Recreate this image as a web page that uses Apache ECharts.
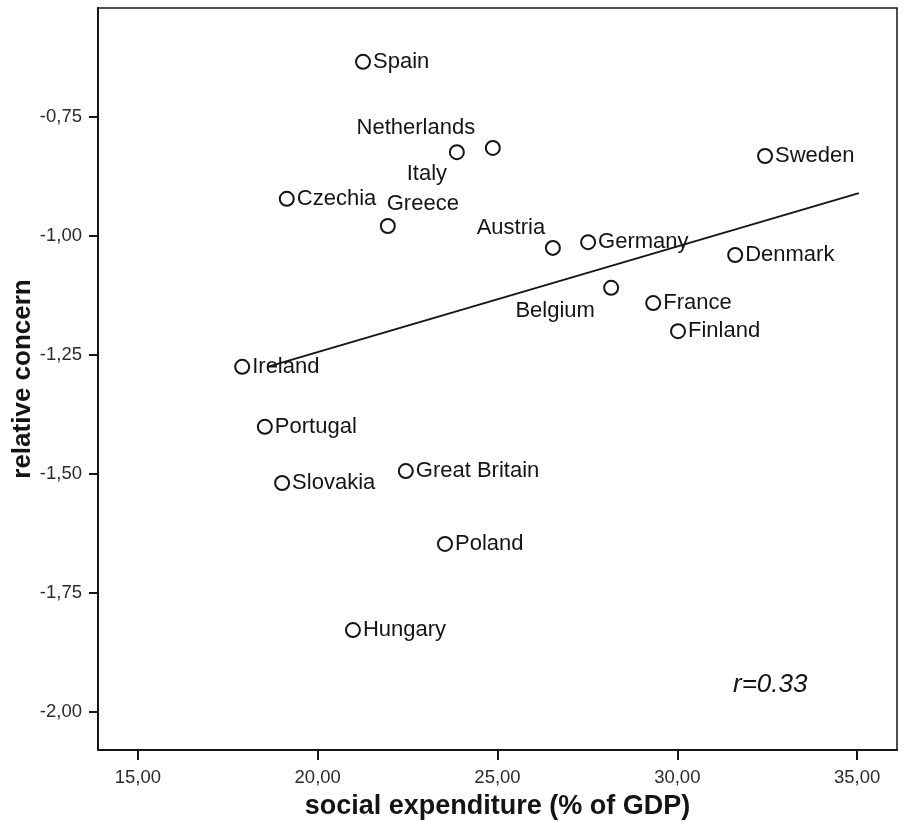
<!DOCTYPE html>
<html>
<head>
<meta charset="utf-8">
<script src="https://cdn.jsdelivr.net/npm/echarts@6/dist/echarts.min.js"></script>
<style>
html,body{margin:0;padding:0;background:#fff;}
#chart{width:903px;height:821px;}
</style>
</head>
<body>
<div id="chart"></div>
<script>
// ---- data ----
var countries = ['Spain','Italy','Netherlands','Sweden','Czechia','Greece','Austria','Germany','Denmark','Belgium','France','Finland','Ireland','Portugal','Slovakia','Great Britain','Poland','Hungary'];
var socialExpenditure = [21.26, 23.87, 24.87, 32.44, 19.14, 21.95, 26.54, 27.52, 31.61, 28.16, 29.33, 30.02, 17.90, 18.53, 19.01, 22.45, 23.54, 20.98];
var relativeConcern = [-0.634, -0.824, -0.815, -0.832, -0.922, -0.979, -1.025, -1.013, -1.040, -1.109, -1.141, -1.200, -1.275, -1.401, -1.519, -1.494, -1.647, -1.828];
var fitX = [18.6, 35.05];
var fitY = [-1.275, -0.910];
var xTicks = [15, 20, 25, 30, 35];
var yTicks = [-2.00, -1.75, -1.50, -1.25, -1.00, -0.75];
var annotationText = 'r=0.33';

// ---- label placement styling (pixel offsets of label centre from point) ----
var labelOffsets = {
  'Netherlands': [-77, -20],
  'Italy': [-30, 22],
  'Greece': [35, -22],
  'Austria': [-42, -20],
  'Belgium': [-56, 23]
};

var FONT = 'Liberation Sans, Arial, Helvetica, sans-serif';
var INK = '#141414';

var scatterData = countries.map(function (c, i) {
  var item = { name: c, value: [socialExpenditure[i], relativeConcern[i]] };
  if (labelOffsets[c]) {
    item.label = { position: 'inside', offset: labelOffsets[c], align: 'center', verticalAlign: 'middle' };
  }
  return item;
});

var fmt = function (v) { return v.toFixed(2).replace('.', ','); };

var chart = echarts.init(document.getElementById('chart'), null, { renderer: 'canvas' });
chart.setOption({
  backgroundColor: '#ffffff',
  animation: false,
  grid: {
    left: 98, right: 6, top: 8, bottom: 71,
    containLabel: false,
    outerBoundsMode: 'none',
    show: true, borderColor: INK, borderWidth: 1.5, backgroundColor: 'transparent'
  },
  xAxis: {
    type: 'value',
    min: 13.89, max: 36.11,
    name: 'social expenditure (% of GDP)',
    nameLocation: 'middle',
    nameGap: 43,
    nameMoveOverlap: false,
    nameTextStyle: { fontFamily: FONT, fontSize: 27, fontWeight: 'bold', color: INK },
    axisLine: { show: true, onZero: false, lineStyle: { color: INK, width: 2 } },
    axisTick: { show: true, length: 10, customValues: xTicks, lineStyle: { color: INK, width: 2 } },
    axisLabel: { customValues: xTicks, formatter: fmt, margin: 18, fontFamily: FONT, fontSize: 18.5, color: '#2a2a2a' },
    splitLine: { show: false }
  },
  yAxis: {
    type: 'value',
    min: -2.08, max: -0.521,
    name: 'relative concern',
    nameLocation: 'middle',
    nameGap: 62,
    nameRotate: 90,
    nameMoveOverlap: false,
    nameTextStyle: { fontFamily: FONT, fontSize: 26, fontWeight: 'bold', color: INK },
    axisLine: { show: true, onZero: false, lineStyle: { color: INK, width: 2 } },
    axisTick: { show: true, length: 9, customValues: yTicks, lineStyle: { color: INK, width: 2 } },
    axisLabel: { customValues: yTicks, formatter: fmt, margin: 16, fontFamily: FONT, fontSize: 18.5, color: '#2a2a2a' },
    splitLine: { show: false }
  },
  graphic: [{
    type: 'text', left: 733, top: 672,
    style: { text: annotationText, font: 'italic 26px ' + FONT, fill: INK }
  }],
  series: [
    {
      type: 'line',
      data: fitX.map(function (x, i) { return [x, fitY[i]]; }),
      symbol: 'none',
      silent: true,
      lineStyle: { color: INK, width: 1.8, opacity: 1 },
      z: 3
    },
    {
      type: 'scatter',
      data: scatterData,
      symbol: 'circle',
      symbolSize: 14,
      itemStyle: { color: '#ffffff', borderColor: INK, borderWidth: 2, opacity: 1 },
      label: {
        show: true,
        position: 'right',
        distance: 2,
        formatter: '{b}',
        fontFamily: FONT,
        fontSize: 22,
        color: INK,
        opacity: 1
      },
      z: 2
    }
  ]
});
</script>
</body>
</html>
